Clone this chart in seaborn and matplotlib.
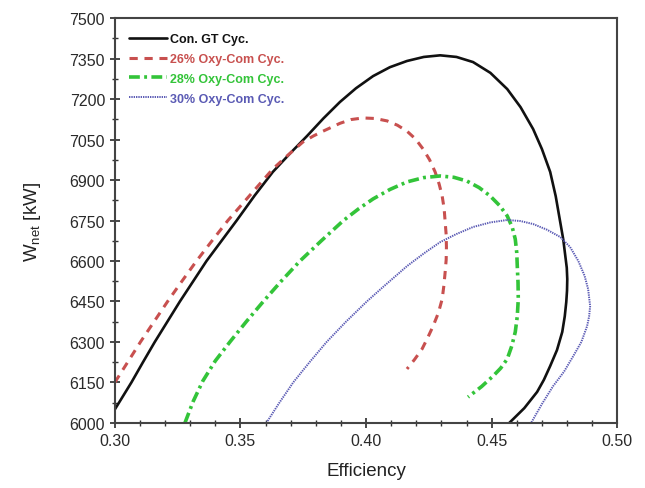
import matplotlib
matplotlib.use("Agg")
import matplotlib.pyplot as plt
from matplotlib.ticker import MultipleLocator
import seaborn as sns
import pandas as pd

# Net power output versus cycle efficiency for each cycle configuration
con_eff = [0.3000, 0.3033, 0.3066, 0.3112, 0.3159, 0.3209, 0.3259, 0.3312, 0.3365,
           0.3425, 0.3485, 0.3557, 0.3629, 0.3697, 0.3765, 0.3830, 0.3896, 0.3960,
           0.4028, 0.4095, 0.4163, 0.4230, 0.4295, 0.4360, 0.4426, 0.4495, 0.4562,
           0.4615, 0.4665, 0.4700, 0.4733, 0.4755, 0.4773, 0.4785, 0.4793, 0.4799,
           0.4801, 0.4800, 0.4797, 0.4791, 0.4781, 0.4760, 0.4733, 0.4708, 0.4681,
           0.4630, 0.4570]
con_w = [6050, 6100, 6150, 6225, 6300, 6375, 6450, 6525, 6600,
         6675, 6750, 6843, 6930, 6998, 7063, 7128, 7189, 7240,
         7285, 7318, 7341, 7356, 7362, 7356, 7337, 7297, 7237,
         7170, 7089, 7015, 6930, 6840, 6744, 6680, 6620, 6575,
         6533, 6490, 6448, 6395, 6337, 6270, 6211, 6160, 6115,
         6055, 6000]

oxy26_eff = [0.3000, 0.3051, 0.3102, 0.3156, 0.3210, 0.3267, 0.3325, 0.3387, 0.3450,
             0.3525, 0.3629, 0.3690, 0.3749, 0.3790, 0.3829, 0.3896, 0.3940, 0.3988,
             0.4036, 0.4084, 0.4125, 0.4163, 0.4197, 0.4227, 0.4253, 0.4275, 0.4291,
             0.4303, 0.4311, 0.4315, 0.4319, 0.4320, 0.4319, 0.4315, 0.4310, 0.4303,
             0.4288, 0.4267, 0.4245, 0.4223, 0.4193, 0.4163]
oxy26_w = [6150, 6225, 6300, 6375, 6450, 6525, 6600, 6675, 6750,
           6830, 6941, 6993, 7041, 7063, 7081, 7110, 7124, 7130,
           7128, 7119, 7103, 7081, 7052, 7015, 6975, 6930, 6885,
           6841, 6793, 6744, 6697, 6650, 6605, 6560, 6510, 6459,
           6408, 6359, 6315, 6274, 6235, 6200]

oxy28_eff = [0.3279, 0.3312, 0.3350, 0.3400, 0.3458, 0.3523, 0.3591, 0.3662, 0.3737,
             0.3822, 0.3910, 0.3970, 0.4028, 0.4095, 0.4163, 0.4230, 0.4295, 0.4350,
             0.4402, 0.4450, 0.4494, 0.4532, 0.4562, 0.4582, 0.4594, 0.4600, 0.4602,
             0.4605, 0.4606, 0.4602, 0.4594, 0.4580, 0.4562, 0.4536, 0.4506, 0.4460,
             0.4406]
oxy28_w = [6000, 6080, 6155, 6230, 6300, 6375, 6450, 6525, 6600,
           6675, 6750, 6793, 6830, 6865, 6893, 6909, 6915, 6910,
           6896, 6872, 6841, 6805, 6767, 6725, 6681, 6630, 6581,
           6520, 6459, 6395, 6337, 6285, 6237, 6203, 6174, 6135,
           6096]

oxy30_eff = [0.3603, 0.3655, 0.3710, 0.3775, 0.3843, 0.3920, 0.4003, 0.4068, 0.4163,
             0.4230, 0.4295, 0.4360, 0.4426, 0.4495, 0.4562, 0.4615, 0.4665, 0.4720,
             0.4773, 0.4812, 0.4845, 0.4870, 0.4884, 0.4892, 0.4888, 0.4880, 0.4857,
             0.4825, 0.4788, 0.4745, 0.4700, 0.4657]
oxy30_w = [6000, 6075, 6150, 6225, 6300, 6375, 6450, 6504, 6581,
           6628, 6670, 6700, 6726, 6743, 6752, 6748, 6737, 6716,
           6689, 6652, 6600, 6545, 6496, 6433, 6395, 6359, 6300,
           6248, 6190, 6137, 6070, 6000]

labels = ["Con. GT Cyc.", "26% Oxy-Com Cyc.", "28% Oxy-Com Cyc.", "30% Oxy-Com Cyc."]
x_ticks = [0.30, 0.35, 0.40, 0.45, 0.50]
y_ticks = [6000, 6150, 6300, 6450, 6600, 6750, 6900, 7050, 7200, 7350, 7500]

series = [
    (con_eff, con_w, labels[0], "#111111", 1.9, (None, None)),
    (oxy26_eff, oxy26_w, labels[1], "#c8504f", 2.2, (2.7, 2.2)),
    (oxy28_eff, oxy28_w, labels[2], "#33c439", 2.6, (3.0, 1.2, 0.8, 1.2)),
    (oxy30_eff, oxy30_w, labels[3], "#5a5ab4", 1.4, (0.7, 0.5)),
]

sns.set_style("ticks")
plt.rcParams["font.family"] = ["Liberation Sans", "DejaVu Sans"]

fig = plt.figure(figsize=(6.45, 4.89), dpi=100)
ax = fig.add_axes([0.178, 0.133, 0.779, 0.828])

for eff, w, name, color, lw, dash in series:
    df = pd.DataFrame({"Efficiency": eff, "Wnet": w})
    line = sns.lineplot(data=df, x="Efficiency", y="Wnet", sort=False, estimator=None,
                        color=color, linewidth=lw, label=name, ax=ax).lines[-1]
    line.set_solid_joinstyle("round")
    if dash[0] is not None:
        line.set_dashes(dash)

ax.set_xlim(0.30, 0.50)
ax.set_ylim(6000, 7500)
ax.set_xticks(x_ticks)
ax.set_xticklabels([f"{v:.2f}" for v in x_ticks])
ax.set_yticks(y_ticks)
ax.xaxis.set_minor_locator(MultipleLocator(0.01))
ax.yaxis.set_minor_locator(MultipleLocator(75))
ax.tick_params(which="major", direction="inout", length=7, width=1.2,
               labelsize=11.5, colors="#2a2a2a", top=False, right=False)
ax.tick_params(which="minor", direction="inout", length=4, width=1.0,
               top=False, right=False, colors="#333333")

for sp in ax.spines.values():
    sp.set_visible(True)
    sp.set_linewidth(1.5)
    sp.set_color("#444444")

ax.set_xlabel("Efficiency", fontsize=13.5, color="#222222", labelpad=10)
ax.set_ylabel(r"$\mathregular{W_{net}}$ [kW]", fontsize=13.5, color="#222222", labelpad=19)

leg = ax.legend(loc="upper left", bbox_to_anchor=(0.005, 0.99), frameon=False,
                handlelength=3.1, handletextpad=0.2, labelspacing=0.62,
                prop={"size": 9, "weight": "bold"})
for text, (_, _, _, color, _, _) in zip(leg.get_texts(), series):
    text.set_color(color)

fig.savefig("out.png", dpi=100)
